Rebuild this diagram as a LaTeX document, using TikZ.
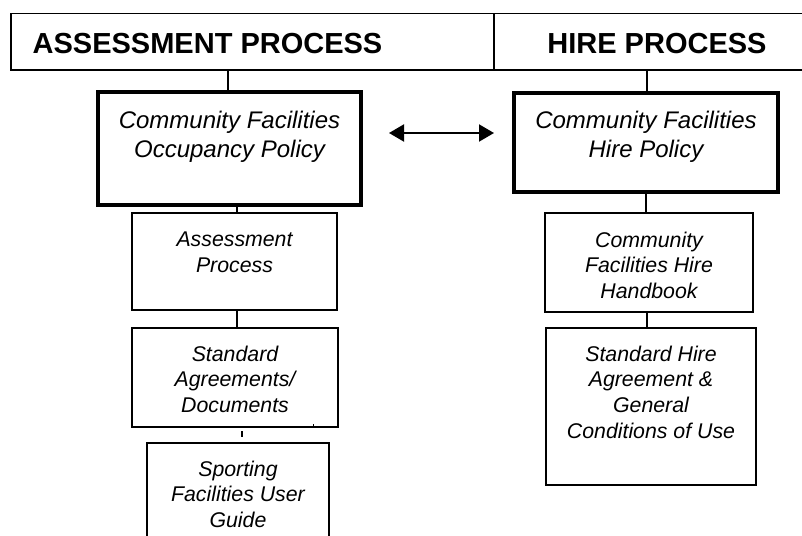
\documentclass[tikz,border=0pt]{standalone}
\usepackage{fontspec}
\setmainfont{Liberation Sans}
\usetikzlibrary{arrows.meta}
\tikzset{
  hdrcell/.style={draw, line width=1.5pt, inner sep=0pt, minimum height=56.7pt},
  hdrtxt/.style={inner sep=0pt, anchor=base, font=\fontsize{29}{35}\selectfont\bfseries},
  thickbox/.style={draw, line width=3.5pt, inner sep=0pt},
  thinbox/.style={draw, line width=2pt, inner sep=0pt},
  bigtxt/.style={inner sep=0pt, anchor=north, align=center, font=\fontsize{24}{29.5}\selectfont\itshape},
  smalltxt/.style={inner sep=0pt, anchor=north, align=center, font=\fontsize{21.3}{25.7}\selectfont\itshape},
  conn/.style={line width=1.5pt},
  dblarrow/.style={line width=2pt, {Triangle[length=15pt,width=17pt]}-{Triangle[length=15pt,width=17pt]}}
}
\begin{document}
\begin{tikzpicture}[x=1pt,y=-1pt]
\useasboundingbox (0,0) rectangle (802,535);
\clip (0,0) rectangle (802,535);
% header
\node[hdrcell, minimum width=483pt] (hleft) at (252.5,41.65) {};
\node[hdrcell, minimum width=318pt] (hright) at (653,41.65) {};
\node[hdrtxt] (hlab1) at (207.5,53) {ASSESSMENT PROCESS};
\node[hdrtxt] (hlab2) at (657,53) {HIRE PROCESS};
% left column
\node[thickbox, minimum width=263pt, minimum height=113pt] (b1) at (229.5,148.5) {};
\node[bigtxt] (b1t) at ([yshift=-20.5pt]b1.north) {Community Facilities\\Occupancy Policy};
\node[thinbox, minimum width=205pt, minimum height=97pt] (b2) at (234.5,261.5) {};
\node[smalltxt] (b2t) at ([yshift=-19.5pt]b2.north) {Assessment\\Process};
\node[thinbox, minimum width=206pt, minimum height=99pt] (b3) at (235,377.5) {};
\node[smalltxt] (b3t) at ([yshift=-18.5pt]b3.north) {Standard\\Agreements/\\Documents};
\node[thinbox, minimum width=182pt, minimum height=117pt] (b4) at (238,501.5) {};
\node[smalltxt] (b4t) at ([yshift=-18.5pt]b4.north) {Sporting\\Facilities User\\Guide};
% right column
\node[thickbox, minimum width=264pt, minimum height=99pt] (b5) at (646,142.5) {};
\node[bigtxt] (b5t) at ([yshift=-19.5pt]b5.north) {Community Facilities\\Hire Policy};
\node[thinbox, minimum width=208pt, minimum height=99pt] (b6) at (649,262.5) {};
\node[smalltxt] (b6t) at ([yshift=-19.5pt]b6.north) {Community\\Facilities Hire\\Handbook};
\node[thinbox, minimum width=210pt, minimum height=157pt] (b7) at (651,406.5) {};
\node[smalltxt] (b7t) at ([yshift=-18.5pt]b7.north) {Standard Hire\\Agreement \&\\General\\Conditions of Use};
% connectors
\draw[conn] ([xshift=-24.5pt]hleft.south) -- ([xshift=-1.5pt]b1.north);
\draw[conn] ([xshift=7.5pt]b1.south) -- ([xshift=2.5pt]b2.north);
\draw[conn] ([xshift=2.5pt]b2.south) -- ([xshift=2pt]b3.north);
\coordinate (c34) at (242,437);
\draw[conn] ([xshift=7pt,yshift=-3pt]b3.south) -- (c34);
\coordinate (tick) at (313,424);
\draw[line width=1pt] (tick) -- ([xshift=78pt]b3.south);
\draw[conn] ([xshift=-6pt]hright.south) -- ([xshift=1pt]b5.north);
\draw[conn] (b5.south) -- ([xshift=-3pt]b6.north);
\draw[conn] ([xshift=-2pt]b6.south) -- ([xshift=-4pt]b7.north);
% double arrow
\coordinate (a1) at (389,133);
\coordinate (a2) at (494,133);
\draw[dblarrow] (a1) -- (a2);
\end{tikzpicture}
\end{document}
